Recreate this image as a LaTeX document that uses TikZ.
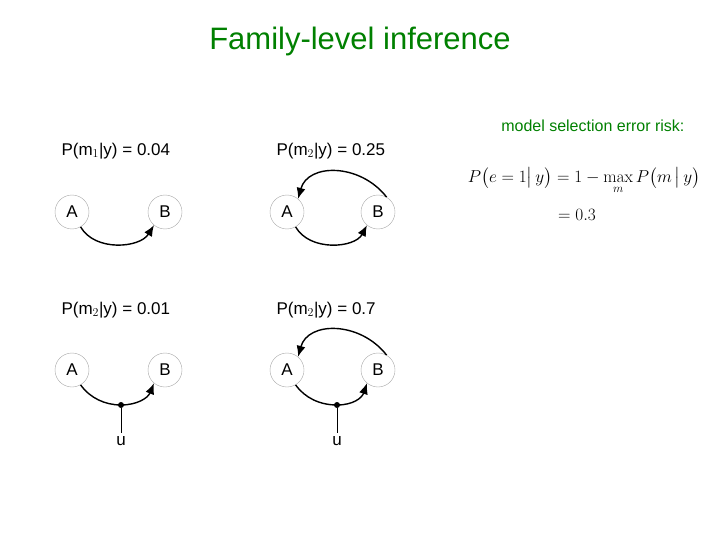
\documentclass[tikz,border=0pt]{standalone}
\usepackage{amsmath}
\usepackage[no-math]{fontspec}
\setmainfont{Liberation Sans}
\usetikzlibrary{arrows.meta}
\definecolor{tgreen}{RGB}{0,128,0}
\begin{document}
\begin{tikzpicture}[x=1pt,y=-1pt,
  var/.style={circle,draw=black!35,thin,minimum size=34pt,inner sep=0pt,font=\fontsize{17}{19}\selectfont},
  lab/.style={font=\fontsize{17}{19}\selectfont,anchor=west},
  edge/.style={line width=1.4pt,-{Latex[length=11pt,width=9pt]}},
  plain/.style={line width=1.4pt},
  junc/.style={circle,fill=black,inner sep=0pt,minimum size=6pt}]
\useasboundingbox (0,0) rectangle (720,540);
\node[text=tgreen,font=\fontsize{31}{34}\selectfont] (title) at (360,41) {Family-level inference};
\node[text=tgreen,font=\fontsize{16}{18}\selectfont,anchor=east] (risk) at (688,126) {model selection error risk:};
\node (f1) at (584,181) {\fontsize{18}{21}\selectfont$\displaystyle P\bigl(e=1\big|\,y\bigr)=1-\max_m P\bigl(m\,\big|\,y\bigr)$};
\node (f2) at (577,215) {\fontsize{18}{21}\selectfont$=0.3$};
% labels
\node[lab] (l1) at (58,151) {P(m$_1$|y) = 0.04};
\node[lab] (l2) at (273,151) {P(m$_2$|y) = 0.25};
\node[lab] (l3) at (58,310) {P(m$_2$|y) = 0.01};
\node[lab] (l4) at (273,310) {P(m$_2$|y) = 0.7};
% graph 1
\node[var] (a1) at (72,212) {A};
\node[var] (b1) at (165,212) {B};
\draw[edge] (a1.-60) .. controls (95,252) and (140,248) .. (b1.-130);
% graph 2
\node[var] (a2) at (287,212) {A};
\node[var] (b2) at (378,212) {B};
\draw[edge] (a2.-60) .. controls (310,252) and (355,248) .. (b2.-130);
\draw[edge] (b2.60) .. controls (360,163) and (308,163) .. (a2.50);
% graph 3
\node[var] (a3) at (72,370) {A};
\node[var] (b3) at (165,370) {B};
\node[junc] (j3) at (121,405) {};
\node[font=\fontsize{17}{19}\selectfont] (u3) at (121,441) {u};
\draw[plain] (a3.-60) .. controls (90,398) and (105,405) .. (j3.center);
\draw[edge] (j3.center) .. controls (137,405) and (148,398) .. (b3.-130);
\draw[thin] (j3) -- (u3);
% graph 4
\node[var] (a4) at (287,370) {A};
\node[var] (b4) at (378,370) {B};
\node[junc] (j4) at (337,405) {};
\node[font=\fontsize{17}{19}\selectfont] (u4) at (337,441) {u};
\draw[plain] (a4.-60) .. controls (305,398) and (320,405) .. (j4.center);
\draw[edge] (j4.center) .. controls (353,405) and (362,398) .. (b4.-130);
\draw[edge] (b4.60) .. controls (360,321) and (308,321) .. (a4.50);
\draw[thin] (j4) -- (u4);
\end{tikzpicture}
\end{document}
